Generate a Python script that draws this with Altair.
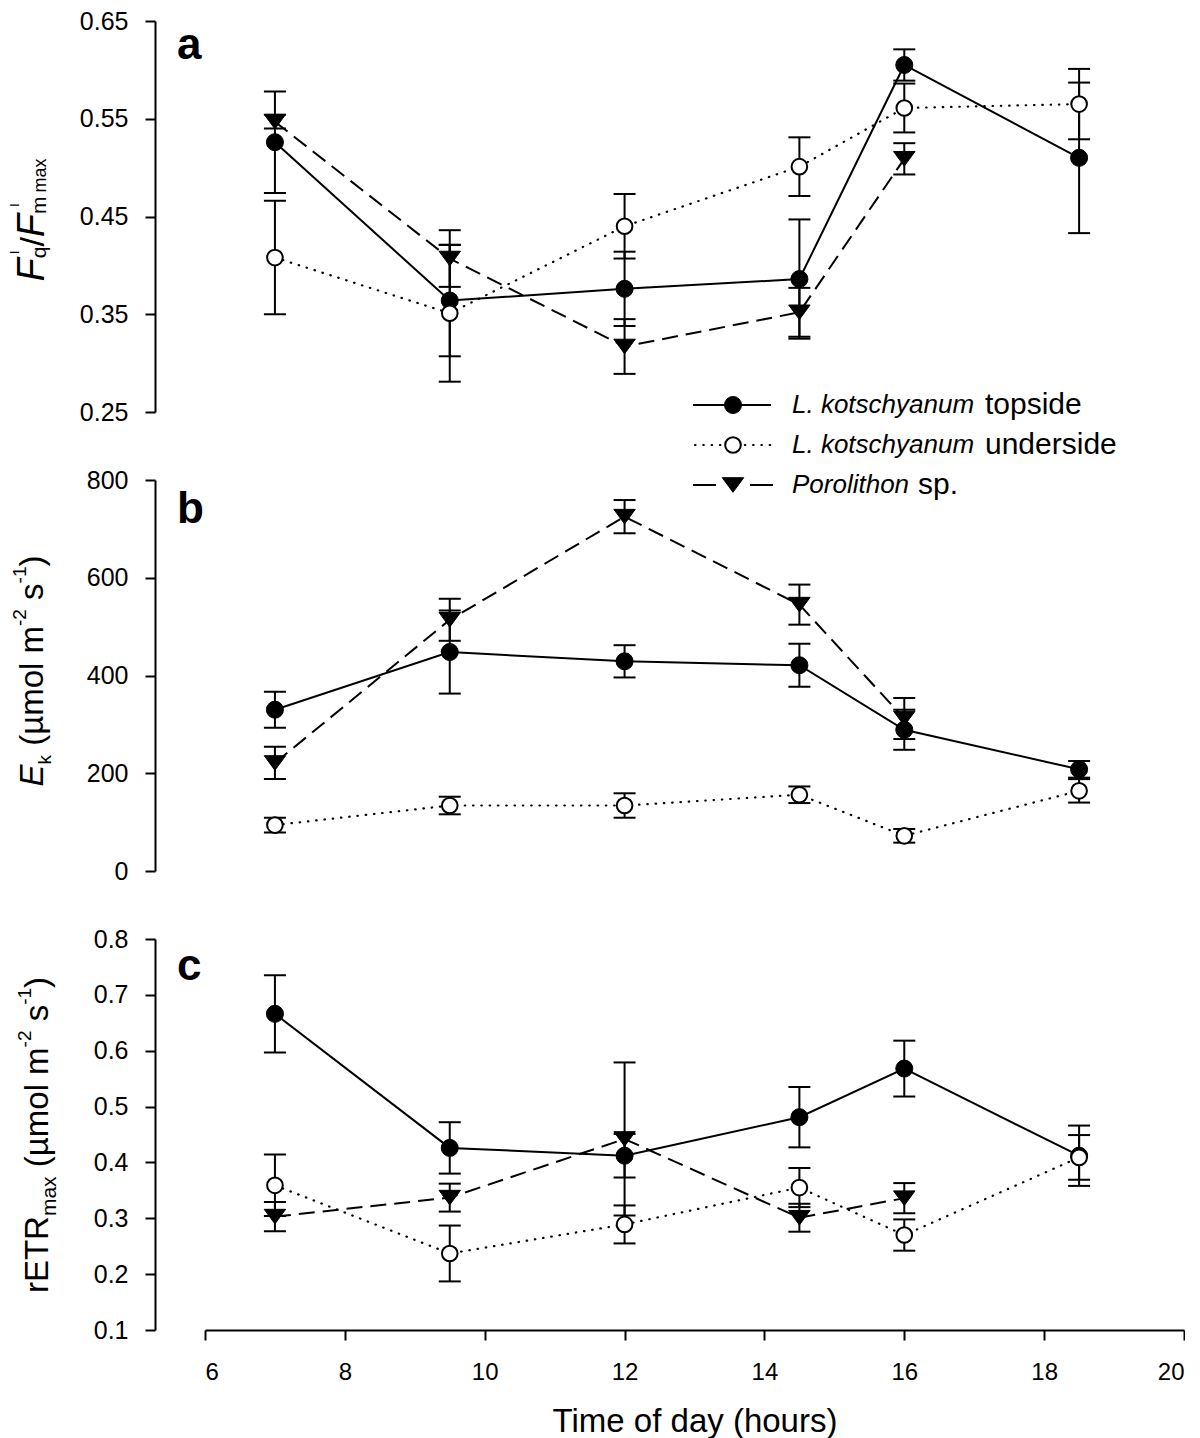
import altair as alt
import pandas as pd

FONT = "Liberation Sans"

# ---------------- data ----------------
hours = [7, 9.5, 12, 14.5, 16, 18.5]
hours_poro = [7, 9.5, 12, 14.5, 16]

# (a) Fq'/Fm' max
a_top = [0.526, 0.364, 0.376, 0.386, 0.605, 0.510]
a_top_se = [0.052, 0.057, 0.038, 0.061, 0.016, 0.077]
a_under = [0.408, 0.351, 0.440, 0.501, 0.561, 0.565]
a_under_se = [0.058, 0.070, 0.033, 0.030, 0.025, 0.036]
a_poro = [0.547, 0.407, 0.317, 0.352, 0.509]
a_poro_se = [0.007, 0.029, 0.028, 0.025, 0.016]

# (b) Ek
b_top = [330, 448, 429, 421, 289, 208]
b_top_se = [37, 85, 33, 44, 41, 17]
b_under = [94, 134, 134, 156, 72, 164]
b_under_se = [15, 18, 25, 17, 14, 24]
b_poro = [221, 514, 725, 545, 312]
b_poro_se = [33, 43, 34, 41, 42]

# (c) rETRmax
c_top = [0.666, 0.426, 0.412, 0.481, 0.568, 0.412]
c_top_se = [0.069, 0.046, 0.039, 0.054, 0.050, 0.054]
c_under = [0.359, 0.237, 0.289, 0.355, 0.270, 0.409]
c_under_se = [0.055, 0.050, 0.034, 0.035, 0.028, 0.040]
c_poro = [0.303, 0.337, 0.442, 0.301, 0.336]
c_poro_se = [0.026, 0.025, 0.137, 0.025, 0.027]

a_ticks = [0.25, 0.35, 0.45, 0.55, 0.65]
b_ticks = [0, 200, 400, 600, 800]
c_ticks = [0.1, 0.2, 0.3, 0.4, 0.5, 0.6, 0.7, 0.8]
x_ticks = [6, 8, 10, 12, 14, 16, 18, 20]

legend_italic = ["L. kotschyanum", "L. kotschyanum", "Porolithon"]
legend_plain = ["topside", "underside", "sp."]

# ---------------- styling ----------------
W, H = 979, 391
TRI = "M-1,-0.68L1,-0.68L0,0.68Z"
STYLE = {
    "poro": dict(shape=TRI, fill="black", size=460, dash=[16, 8], cap="butt", sw=1),
    "top": dict(shape="circle", fill="black", size=290, dash=None, cap="butt", sw=1),
    "under": dict(shape="circle", fill="white", size=245, dash=[0.5, 7.8], cap="round", sw=2),
}
ORDER = ["poro", "top", "under"]

CW = {' ': 278, '(': 333, ')': 333, 'µ': 576, 'm': 833, 'o': 556, 'l': 222,
      's': 500, '-': 333, '1': 556, '2': 556, 'E': 667, 'k': 500, 'r': 333, 'T': 611,
      'R': 722, 'a': 556, 'x': 500, 'F': 611, 'q': 556, '/': 278, 'I': 278, 'L': 556,
      '.': 278, 't': 278, 'c': 500, 'h': 556, 'y': 500, 'n': 556, 'u': 556, 'p': 556,
      'i': 222, 'd': 556, 'e': 556, 'P': 667}


def tw(s, size):
    return sum(CW.get(ch, 556) for ch in s) * size / 1000.0


ONE = pd.DataFrame({"k": [0]})


def text_piece(t, size, italic=False, bold=False, x=0, y=0, angle=0, align="left",
               baseline="alphabetic"):
    kw = dict(text=t, fontSize=size, font=FONT, color="black", align=align,
              baseline=baseline, fontStyle="italic" if italic else "normal",
              fontWeight="bold" if bold else "normal")
    if angle:
        kw["angle"] = angle
    return alt.Chart(ONE).mark_text(**kw).encode(x=alt.value(x), y=alt.value(y))


def vtitle(pieces, bx, center):
    """pieces: (text, size, italic, dx, stacked); text None = word gap."""
    def width(t, s):
        return tw(" ", s) if t is None else tw(t, s)
    total = sum(width(t, s) for t, s, it, dx, st in pieces if not st)
    cur = center + total / 2.0
    out = []
    prev_start = prev_w = 0
    for t, s, it, dx, st in pieces:
        w = width(t, s)
        if st:
            y = prev_start - (prev_w - w) / 2.0
        else:
            y = cur
            prev_start, prev_w = cur, w
            cur -= w
        if t is not None:
            out.append(text_piece(t, s, italic=it, x=bx + dx, y=y, angle=270))
    return out


def make_df(xs, ys, es):
    return pd.DataFrame({"hour": xs, "value": ys,
                         "lo": [y - e for y, e in zip(ys, es)],
                         "hi": [y + e for y, e in zip(ys, es)]})


def panel(data, ydomain, yticks, yfmt, show_x, extras):
    xaxis = alt.Axis(values=x_ticks, format="d", title="Time of day (hours)",
                     labelPadding=20, titlePadding=21, titleFontSize=33) if show_x else None
    xenc = alt.X("hour:Q", scale=alt.Scale(domain=[6, 20], nice=False, zero=False), axis=xaxis)
    ysc = alt.Scale(domain=ydomain, nice=False, zero=False)
    yaxis = alt.Axis(values=yticks, format=yfmt, title=None, offset=50, labelPadding=17)
    bars, lines, points = [], [], []
    for key in ORDER:
        df = data[key]
        st = STYLE[key]
        bars.append(alt.Chart(df).mark_rule(color="black", strokeWidth=2).encode(
            x=xenc, y=alt.Y("lo:Q", scale=ysc, axis=yaxis), y2="hi:Q"))
        for f in ["lo", "hi"]:
            bars.append(alt.Chart(df).mark_tick(orient="horizontal", size=22, thickness=2,
                                                color="black", opacity=1).encode(
                x=xenc, y=alt.Y(f + ":Q", scale=ysc, axis=yaxis)))
        lk = dict(color="black", strokeWidth=2 if key != "under" else 2.2, strokeCap=st["cap"])
        if st["dash"]:
            lk["strokeDash"] = st["dash"]
        lines.append(alt.Chart(df).mark_line(**lk).encode(
            x=xenc, y=alt.Y("value:Q", scale=ysc, axis=yaxis)))
        points.append(alt.Chart(df).mark_point(
            shape=st["shape"], filled=True, fill=st["fill"], stroke="black",
            strokeWidth=st["sw"], size=st["size"], opacity=1).encode(
            x=xenc, y=alt.Y("value:Q", scale=ysc, axis=yaxis)))
    return alt.layer(*(bars + lines + points + extras)).properties(width=W, height=H)


# ---------------- decorations ----------------
SUPX = -25
title_a = vtitle([
    ("F", 38, True, 0, False),
    ("q", 21, False, 2, False),
    ("I", 13, False, SUPX, True),
    ("/", 34, False, 0, False),
    ("F", 38, True, 0, False),
    ("m", 21, False, 2, False),
    ("I", 13, False, SUPX, True),
    (None, 14, False, 0, False),
    ("max", 18, False, 2, False),
], bx=-161, center=199)

SUB, SUP, SS = 8, -17, 19
unit_pieces = [
    (None, 33, False, 0, False),
    ("(µmol", 33, False, 0, False),
    (None, 33, False, 0, False),
    ("m", 33, False, 0, False),
    ("-2", SS, False, SUP, False),
    (None, 33, False, 0, False),
    ("s", 33, False, 0, False),
    ("-1", SS, False, SUP, False),
    (")", 33, False, 0, False),
]
title_b = vtitle([("E", 33, True, 0, False), ("k", SS, False, SUB, False)] + unit_pieces,
                 bx=-162, center=191)
title_c = vtitle([("rETR", 33, False, 0, False), ("max", 21, False, SUB, False)] + unit_pieces,
                 bx=-157, center=196)

letter_a = text_piece("a", 44, bold=True, x=-28, y=38)
letter_b = text_piece("b", 44, bold=True, x=-28, y=43)
letter_c = text_piece("c", 44, bold=True, x=-28, y=41)

# legend (drawn inside panel a, extending below it)
leg = []
rows_y = [384, 424, 464]
plain_x = [780, 780, 713]
LX1, LX2, LMX, LTX, LFS, LFS2 = 488, 566, 528, 587, 26, 30
for i, key in enumerate(["top", "under", "poro"]):
    yy = rows_y[i]
    st = STYLE[key]
    if key == "top":
        segs = [(LX1, LX2)]
        rk = dict(color="black", strokeWidth=2)
    elif key == "under":
        segs = [(LX1 + 2, LX2)]
        rk = dict(color="black", strokeWidth=2.2, strokeDash=[0.5, 7.8], strokeCap="round")
    else:
        segs = [(LX1, 511), (545, LX2 + 2)]
        rk = dict(color="black", strokeWidth=2)
    for s0, s1 in segs:
        leg.append(alt.Chart(ONE).mark_rule(**rk).encode(
            x=alt.value(s0), x2=alt.value(s1), y=alt.value(yy)))
    leg.append(alt.Chart(ONE).mark_point(
        shape=st["shape"], filled=True, fill=st["fill"], stroke="black",
        strokeWidth=st["sw"], size=st["size"], opacity=1).encode(
        x=alt.value(LMX), y=alt.value(yy)))
    leg.append(text_piece(legend_italic[i], LFS, italic=True, x=LTX, y=yy, baseline="middle"))
    leg.append(text_piece(legend_plain[i], LFS2, x=plain_x[i], y=yy, baseline="middle"))

# ---------------- panels ----------------
data_a = {"top": make_df(hours, a_top, a_top_se), "under": make_df(hours, a_under, a_under_se),
          "poro": make_df(hours_poro, a_poro, a_poro_se)}
data_b = {"top": make_df(hours, b_top, b_top_se), "under": make_df(hours, b_under, b_under_se),
          "poro": make_df(hours_poro, b_poro, b_poro_se)}
data_c = {"top": make_df(hours, c_top, c_top_se), "under": make_df(hours, c_under, c_under_se),
          "poro": make_df(hours_poro, c_poro, c_poro_se)}

pa = panel(data_a, [0.25, 0.65], a_ticks, ".2f", False, title_a + [letter_a] + leg)
pb = panel(data_b, [0, 800], b_ticks, "d", False, title_b + [letter_b])
pc = panel(data_c, [0.1, 0.8], c_ticks, ".1f", True, title_c + [letter_c])

chart = alt.vconcat(pa, pb, pc, spacing=68, bounds="flush").properties(
    padding={"left": 0, "top": 1, "right": 0, "bottom": 0}
).configure_view(stroke=None).configure_axis(
    domainColor="black", domainWidth=2, tickColor="black", tickWidth=2, tickSize=10,
    labelColor="black", labelFont=FONT, labelFontSize=25, titleFont=FONT,
    titleFontWeight="normal", titleColor="black", grid=False
).configure_axisX(labelFontSize=24)

chart.save("out.html", embed_options={"renderer": "svg", "actions": False})
